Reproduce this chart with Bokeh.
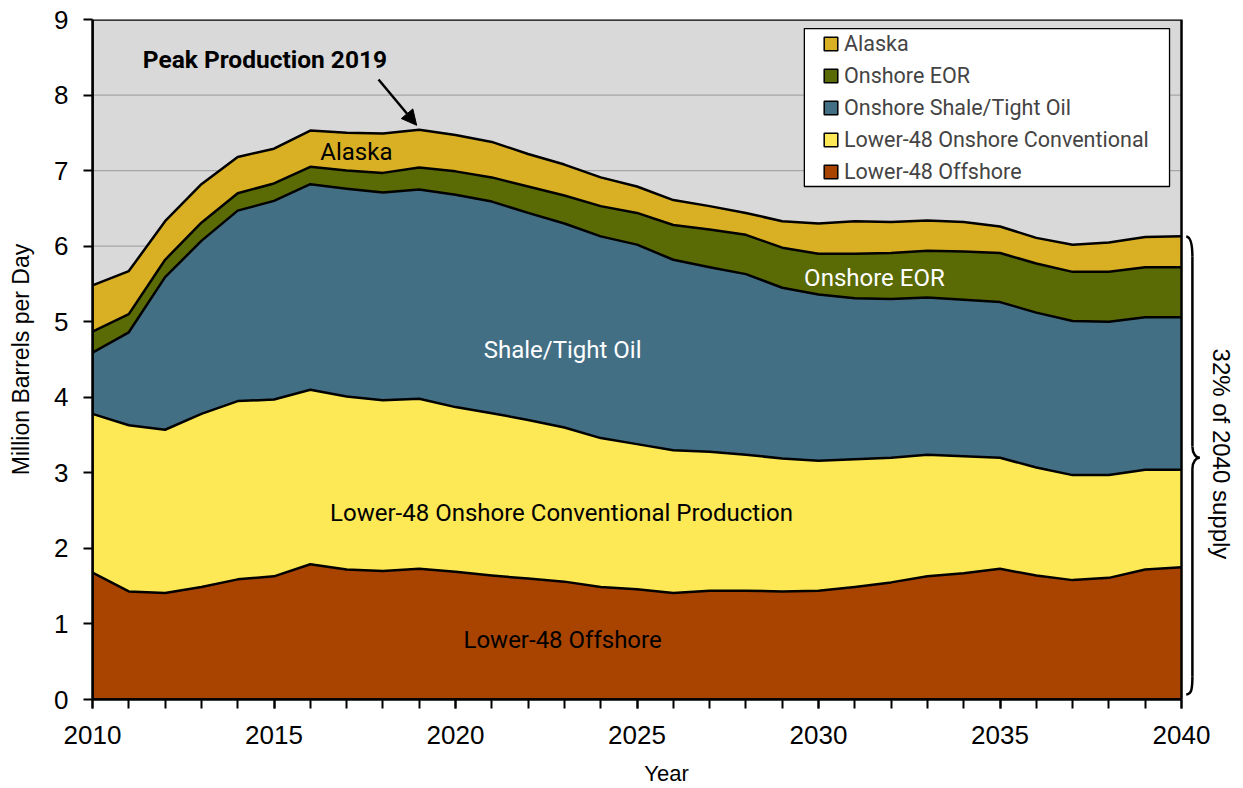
import numpy as np
from bokeh.plotting import figure
from bokeh.models import (ColumnDataSource, Range1d, FixedTicker, Legend, LegendItem,
                          Label, Arrow, NormalHead)
from bokeh.embed import file_html
from bokeh.resources import INLINE

# ---------------- data (million barrels per day) ----------------
years = list(range(2010, 2041))
offshore = [1.68, 1.43, 1.41, 1.49, 1.59, 1.63, 1.79, 1.72, 1.70, 1.73, 1.69, 1.64, 1.60, 1.56, 1.49, 1.46,
            1.41, 1.44, 1.44, 1.43, 1.44, 1.49, 1.55, 1.63, 1.67, 1.73, 1.64, 1.58, 1.61, 1.72, 1.75]
conventional = [2.10, 2.20, 2.16, 2.29, 2.36, 2.34, 2.31, 2.29, 2.26, 2.25, 2.18, 2.15, 2.10, 2.04, 1.97, 1.92,
                1.89, 1.84, 1.80, 1.76, 1.72, 1.69, 1.65, 1.61, 1.55, 1.47, 1.43, 1.39, 1.36, 1.32, 1.29]
shale = [0.81, 1.23, 2.02, 2.29, 2.52, 2.63, 2.72, 2.75, 2.75, 2.77, 2.81, 2.80, 2.74, 2.70, 2.67, 2.64,
         2.52, 2.44, 2.39, 2.26, 2.20, 2.13, 2.10, 2.08, 2.07, 2.06, 2.05, 2.04, 2.03, 2.02, 2.02]
eor = [0.28, 0.24, 0.23, 0.24, 0.23, 0.23, 0.23, 0.24, 0.26, 0.29, 0.31, 0.32, 0.35, 0.37, 0.40, 0.42,
       0.46, 0.50, 0.52, 0.53, 0.54, 0.59, 0.61, 0.62, 0.64, 0.65, 0.65, 0.65, 0.66, 0.66, 0.66]
alaska = [0.61, 0.57, 0.51, 0.51, 0.48, 0.46, 0.48, 0.50, 0.52, 0.50, 0.48, 0.47, 0.43, 0.41, 0.38, 0.35,
          0.33, 0.31, 0.29, 0.35, 0.40, 0.43, 0.41, 0.40, 0.39, 0.35, 0.34, 0.36, 0.39, 0.40, 0.41]

series_keys = ["offshore", "conventional", "shale", "eor", "alaska"]
legend_labels = {
    "alaska": "Alaska",
    "eor": "Onshore EOR",
    "shale": "Onshore Shale/Tight Oil",
    "conventional": "Lower-48 Onshore Conventional",
    "offshore": "Lower-48 Offshore",
}
colors = {
    "offshore": "#A84400",
    "conventional": "#FDE955",
    "shale": "#436F85",
    "eor": "#5A6A04",
    "alaska": "#D9B024",
}
y_ticks = list(range(0, 10))
x_major_ticks = [2010, 2015, 2020, 2025, 2030, 2035, 2040]

NARROW = "Roboto"
SANS = "Liberation Sans"

src = ColumnDataSource(dict(year=years, offshore=offshore, conventional=conventional,
                            shale=shale, eor=eor, alaska=alaska))

X0, X1 = 2010, 2040
p = figure(frame_width=1148, frame_height=680, min_border_left=92, min_border_right=0,
           min_border_top=19, min_border_bottom=86,
           x_range=Range1d(2010, 2041.625), y_range=Range1d(0, 9),
           output_backend="svg", toolbar_location=None,
           background_fill_color="white", border_fill_color="white")
p.outline_line_color = None
p.xgrid.visible = False
p.ygrid.visible = False

# plot-area background (only over 2010-2040)
p.quad(left=[X0], right=[X1], bottom=[0], top=[9], fill_color="#D9D9D9", line_color=None)
# horizontal gridlines
p.segment(x0=[X0] * 8, x1=[X1] * 8, y0=y_ticks[1:9], y1=y_ticks[1:9], line_color="#A6A6A6", line_width=1.3)

# stacked areas
p.varea_stack(stackers=series_keys, x="year", color=[colors[k] for k in series_keys], source=src)

# boundary lines
cum = np.zeros(len(years))
for k in series_keys:
    cum = cum + np.array(src.data[k])
    p.line(years, cum, line_color="black", line_width=2.5, line_join="round")

# frame border
p.quad(left=[X0], right=[X1], bottom=[0], top=[9], fill_color=None, line_color="black", line_width=2.5)

# legend swatch renderers (hidden beneath the legend box)
items = []
for k in ["alaska", "eor", "shale", "conventional", "offshore"]:
    r = p.quad(left=[2031.0], right=[2031.05], top=[8.0], bottom=[7.95], fill_color=colors[k],
               line_color="black", line_width=1.5)
    items.append(LegendItem(label=legend_labels[k], renderers=[r]))

# legend box
p.quad(left=[2029.61], right=[2039.67], bottom=[6.79], top=[8.88], fill_color="white",
       line_color="black", line_width=1.3)

legend = Legend(items=items, location=(730, 515), orientation="vertical",
                label_text_font=NARROW, label_text_font_size="21.5px",
                glyph_width=17, glyph_height=17, label_standoff=5, spacing=7,
                padding=0, margin=0, border_line_color=None, background_fill_alpha=0,
                label_height=25)
p.add_layout(legend)

# brace on the right
bx_tip, bx_mid, bx_pt = 2040.13, 2040.30, 2040.50
p.bezier(x0=[bx_tip, bx_mid, bx_pt, bx_mid], y0=[6.128, 3.35, 3.20, 0.30],
         x1=[bx_mid, bx_pt, bx_mid, bx_tip], y1=[5.86, 3.20, 3.05, 0.066],
         cx0=[2040.27, bx_mid, 2040.41, bx_mid], cy0=[6.12, 3.25, 3.20, 0.13],
         cx1=[bx_mid, 2040.41, bx_mid, 2040.27], cy1=[6.00, 3.20, 3.15, 0.07],
         line_color="black", line_width=2.5)
p.segment(x0=[bx_mid, bx_mid], x1=[bx_mid, bx_mid], y0=[5.86, 3.05], y1=[3.35, 0.30],
          line_color="black", line_width=2.5)

# labels
def lab(x, y, t, color="black", size="24px", font=NARROW, style="normal", angle=0.0):
    p.add_layout(Label(x=x, y=y, text=t, text_color=color, text_font=font, text_font_size=size,
                       text_font_style=style, text_align="center", text_baseline="middle", angle=angle))

lab(2014.75, 8.47, "Peak Production 2019", size="24.5px", style="bold")
lab(2017.27, 7.24, "Alaska")
lab(2031.54, 5.585, "Onshore EOR", color="white")
lab(2022.95, 4.63, "Shale/Tight Oil", color="white")
lab(2022.92, 2.475, "Lower-48 Onshore Conventional Production")
lab(2022.95, 0.79, "Lower-48 Offshore")
lab(2041.10, 3.25, "32% of 2040 supply", size="24px", font=SANS, angle=-np.pi / 2)

p.add_layout(Arrow(end=NormalHead(size=15, fill_color="black", line_color="black"),
                   x_start=2017.88, y_start=8.205, x_end=2018.93, y_end=7.60,
                   line_color="black", line_width=2.5))

# axes
xa = p.xaxis[0]
xa.ticker = FixedTicker(ticks=x_major_ticks, minor_ticks=years)
xa.bounds = (X0, X1)
xa.axis_label = "Year"
xa.axis_label_text_font = SANS
xa.axis_label_text_font_size = "22px"
xa.axis_label_text_font_style = "normal"
xa.axis_label_text_color = "black"
xa.axis_label_standoff = 14
xa.major_label_text_font = SANS
xa.major_label_text_font_size = "26px"
xa.major_label_text_color = "black"
xa.major_label_standoff = 17
xa.axis_line_width = 2.5
xa.major_tick_line_width = 2
xa.minor_tick_line_width = 2
xa.major_tick_in = 0
xa.minor_tick_in = 0
xa.major_tick_out = 9
xa.minor_tick_out = 9

ya = p.yaxis[0]
ya.ticker = FixedTicker(ticks=y_ticks)
ya.axis_label = "Million Barrels per Day"
ya.axis_label_text_font = SANS
ya.axis_label_text_font_size = "23px"
ya.axis_label_text_font_style = "normal"
ya.axis_label_text_color = "black"
ya.axis_label_standoff = 17
ya.major_label_text_font = SANS
ya.major_label_text_font_size = "26px"
ya.major_label_text_color = "black"
ya.major_label_standoff = 15
ya.axis_line_width = 2.5
ya.major_tick_line_width = 2
ya.major_tick_in = 0
ya.major_tick_out = 9
ya.minor_tick_line_color = None

open("out.html", "w").write(file_html(p, INLINE))
